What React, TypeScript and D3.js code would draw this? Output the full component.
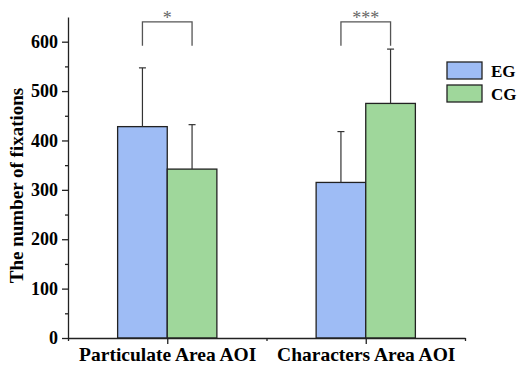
import React, { useEffect, useRef } from 'react';
import * as d3 from 'd3';

const categories = ['Particulate Area AOI', 'Characters Area AOI'];
const groups = ['EG', 'CG'];
const egMeans = [428, 315];
const cgMeans = [342, 475];
const egSD = [119, 103];
const cgSD = [90, 110];
const significance = ['*', '***'];
const yTicks = [0, 100, 200, 300, 400, 500, 600];
const yMinorTicks = [50, 150, 250, 350, 450, 550];

const colors = { EG: '#9ebcf5', CG: '#9fd79b' };
const FONT = '"Liberation Serif", "Times New Roman", serif';

function App() {
  const ref = useRef<SVGSVGElement>(null);

  useEffect(() => {
    const svg = d3.select(ref.current);
    svg.selectAll('*').remove();
    const width = 517;
    const height = 365;
    const margin = { top: 17, right: 52, bottom: 27, left: 68 };

    const x = d3.scaleLinear().domain([0, 4]).range([margin.left, width - margin.right]);
    const y = d3.scaleLinear().domain([0, 650]).range([height - margin.bottom, margin.top]);
    const unit = x(1) - x(0);
    const catPos = (i: number) => 1 + i * 2;

    const series = [
      { name: 'EG', means: egMeans, sd: egSD, offset: -0.5 },
      { name: 'CG', means: cgMeans, sd: cgSD, offset: 0 },
    ];

    series.forEach(s => {
      const g = svg.append('g');
      g.selectAll('rect')
        .data(s.means)
        .join('rect')
        .attr('x', (d, i) => x(catPos(i) + s.offset))
        .attr('y', d => y(d))
        .attr('width', unit / 2)
        .attr('height', d => y(0) - y(d))
        .attr('fill', colors[s.name])
        .attr('stroke', '#222')
        .attr('stroke-width', 1.3);

      // upper error bars
      s.means.forEach((m, i) => {
        const cx = x(catPos(i) + s.offset + 0.25);
        const top = y(m + s.sd[i]);
        g.append('line')
          .attr('x1', cx).attr('x2', cx)
          .attr('y1', y(m)).attr('y2', top)
          .attr('stroke', '#333').attr('stroke-width', 1.2);
        g.append('line')
          .attr('x1', cx - 3.5).attr('x2', cx + 3.5)
          .attr('y1', top).attr('y2', top)
          .attr('stroke', '#333').attr('stroke-width', 1.2);
      });
    });

    // significance brackets
    significance.forEach((label, i) => {
      const x1 = x(catPos(i) - 0.25);
      const x2 = x(catPos(i) + 0.25);
      const top = y(640);
      const bottom = y(592);
      svg.append('path')
        .attr('d', `M${x1},${bottom}V${top}H${x2}V${bottom}`)
        .attr('fill', 'none')
        .attr('stroke', '#555')
        .attr('stroke-width', 1.3);
      svg.append('text')
        .attr('x', (x1 + x2) / 2)
        .attr('y', top + 2)
        .attr('text-anchor', 'middle')
        .attr('font-family', FONT)
        .attr('font-size', 18)
        .attr('fill', '#666')
        .text(label);
    });

    // y axis
    const yAxis = svg.append('g').attr('transform', `translate(${margin.left},0)`);
    yAxis.call(d3.axisLeft(y).tickValues(yTicks).tickSize(6).tickSizeOuter(0).tickPadding(4));
    yAxis.append('g').call(
      d3.axisLeft(y).tickValues(yMinorTicks).tickSize(3).tickFormat(() => ''),
    ).select('.domain').remove();
    yAxis.selectAll('text')
      .attr('font-family', FONT)
      .attr('font-weight', 'bold')
      .attr('font-size', 18)
      .attr('fill', '#000');

    // x axis
    const xAxis = svg.append('g').attr('transform', `translate(0,${y(0)})`);
    xAxis.call(
      d3.axisBottom(x)
        .tickValues([1, 3])
        .tickSize(6)
        .tickSizeOuter(0)
        .tickFormat((d, i) => categories[i]),
    );
    xAxis.append('g').call(
      d3.axisBottom(x).tickValues([0, 2, 4]).tickSize(3).tickFormat(() => ''),
    ).select('.domain').remove();
    xAxis.selectAll('text')
      .attr('y', 23)
      .attr('dy', 0)
      .attr('font-family', FONT)
      .attr('font-weight', 'bold')
      .attr('font-size', 19.5)
      .attr('fill', '#000');

    svg.selectAll('.domain, .tick line').attr('stroke', '#222').attr('stroke-width', 1.3);

    // y axis title
    svg.append('text')
      .attr('transform', `translate(23,${(y(0) + y(650)) / 2 + 8}) rotate(-90)`)
      .attr('text-anchor', 'middle')
      .attr('font-family', FONT)
      .attr('font-weight', 'bold')
      .attr('font-size', 19)
      .text('The number of fixations');

    // legend
    const legend = svg.append('g').attr('transform', 'translate(447,62)');
    groups.forEach((gname, i) => {
      legend.append('rect')
        .attr('x', 0)
        .attr('y', i * 23)
        .attr('width', 35)
        .attr('height', 17)
        .attr('fill', colors[gname])
        .attr('stroke', '#222')
        .attr('stroke-width', 1.3);
      legend.append('text')
        .attr('x', 44)
        .attr('y', i * 23 + 15)
        .attr('font-family', FONT)
        .attr('font-weight', 'bold')
        .attr('font-size', 17)
        .text(gname);
    });
  });

  return (
    <div>
      <svg
        ref={ref}
        width="517"
        height="365"
        style={{ position: 'absolute', left: 0, top: 0, background: '#fff' }}
      />
    </div>
  );
}

export default App;
